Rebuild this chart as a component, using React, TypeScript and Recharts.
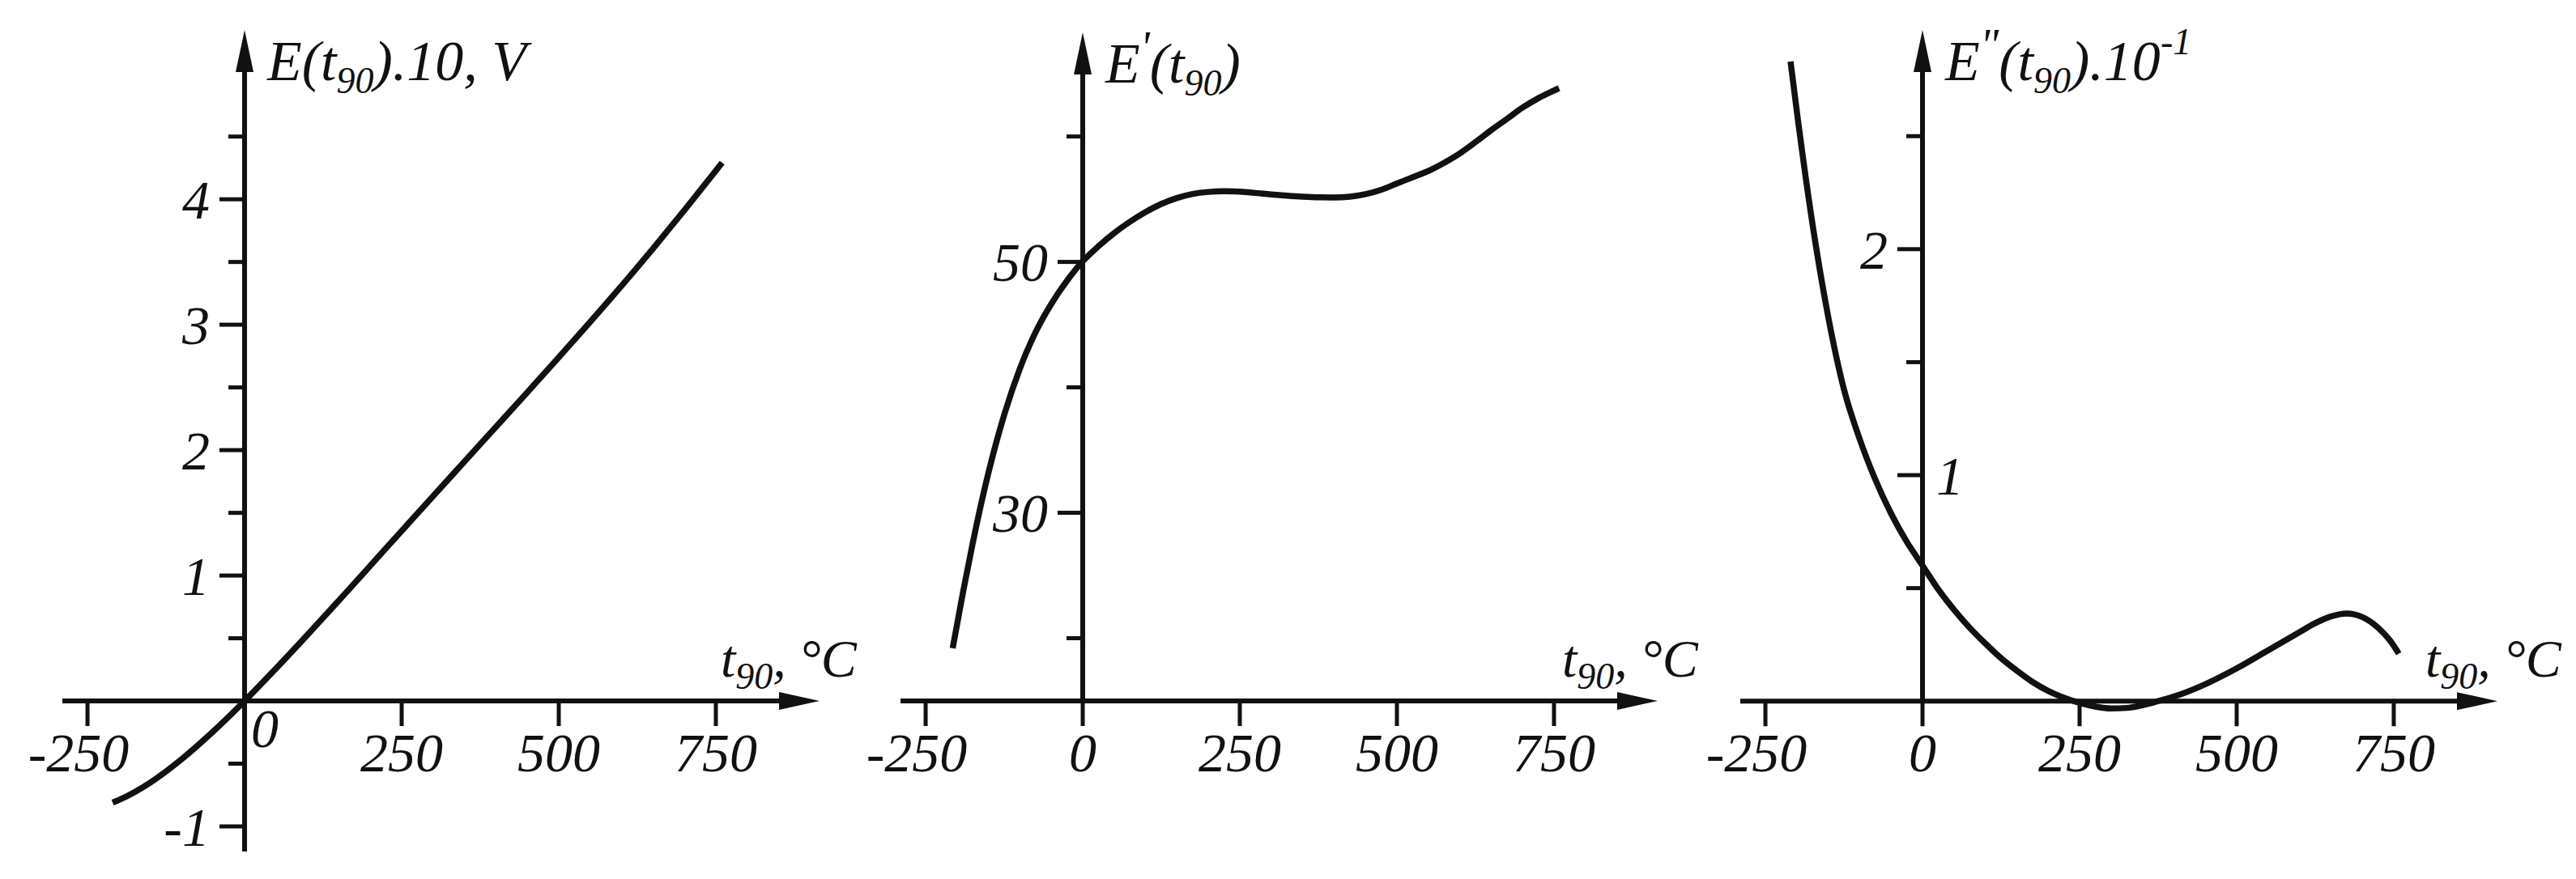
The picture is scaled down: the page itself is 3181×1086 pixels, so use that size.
import React from 'react';
import { LineChart, Line, XAxis, YAxis, ReferenceLine, ReferenceDot } from 'recharts';

const FONT = '"Liberation Serif", "Times New Roman", serif';
const INK = '#111111';
const CANVAS_H = 1086;

// E(t90)·10, V
const tEmf = [-210, -200, -150, -100, -50, 0, 50, 100, 150, 200, 250, 300, 350, 400, 450, 500, 550, 600, 650, 700, 750, 760];
const emf = [-0.81, -0.789, -0.65, -0.463, -0.243, 0, 0.259, 0.527, 0.801, 1.078, 1.356, 1.633, 1.909, 2.185, 2.461, 2.739, 3.022, 3.31, 3.607, 3.913, 4.228, 4.292];

// E'(t90)
const tSlope = [-207, -190, -175, -150, -125, -100, -75, -50, -25, 0, 25, 50, 75, 100, 125, 150, 175, 200, 225, 250, 275, 300, 325, 350, 375, 400, 425, 450, 475, 500, 525, 550, 575, 600, 625, 650, 675, 700, 725, 745, 758];
const slope = [19.2, 23.8, 27.6, 33.2, 37.8, 41.5, 44.4, 46.65, 48.5, 50.05, 51.25, 52.3, 53.2, 53.98, 54.62, 55.1, 55.42, 55.58, 55.63, 55.6, 55.5, 55.38, 55.28, 55.2, 55.15, 55.14, 55.2, 55.4, 55.75, 56.25, 56.75, 57.25, 57.9, 58.65, 59.55, 60.5, 61.4, 62.3, 63.05, 63.55, 63.85];

// E''(t90)·10^-1
const tCurv = [-210, -200, -175, -150, -125, -100, -75, -50, -25, 0, 25, 50, 75, 100, 125, 150, 175, 200, 225, 250, 275, 300, 325, 350, 375, 400, 450, 500, 550, 600, 625, 650, 675, 700, 725, 745, 758];
const curv = [2.83, 2.61, 2.11, 1.7, 1.38, 1.16, 0.98, 0.83, 0.705, 0.6, 0.495, 0.405, 0.325, 0.255, 0.19, 0.135, 0.085, 0.045, 0.015, -0.008, -0.024, -0.032, -0.03, -0.018, 0, 0.02, 0.075, 0.145, 0.225, 0.305, 0.345, 0.375, 0.388, 0.372, 0.325, 0.265, 0.21];

// axis ticks
const xTickVals = [-250, 0, 250, 500, 750];
const emfMajor = [-1, 1, 2, 3, 4];
const emfMinor = [-0.5, 0.5, 1.5, 2.5, 3.5, 4.5];
const slopeMajor = [30, 50];
const slopeMinor = [20, 40, 60];
const curvMajor = [1, 2];
const curvMinor = [0.5, 1.5, 2.5];

const X_DOMAIN: [number, number] = [-290, 915];

const txt = { style: { fontFamily: FONT, fontStyle: 'italic' as const }, fill: INK };

const xArrow = (labelDx: number) => (p: any) => {
    const { x1, y1, x2 } = p;
    return (
        <g>
            <line x1={x1} y1={y1} x2={x2 - 40} y2={y1} stroke={INK} strokeWidth={6} />
            <polygon points={`${x2},${y1} ${x2 - 50},${y1 - 11} ${x2 - 50},${y1 + 11}`} fill={INK} />
            <text x={x2 + labelDx} y={y1 - 30} fontSize={66} {...txt}>
                t<tspan dy={15} fontSize={46}>90</tspan>
                <tspan dy={-15}>, °C</tspan>
            </text>
        </g>
    );
};

const yArrow = (label: React.ReactNode) => (p: any) => {
    const { x1, y1, y2 } = p;
    return (
        <g>
            <line x1={x1} y1={y1} x2={x1} y2={y2 + 40} stroke={INK} strokeWidth={6} />
            <polygon points={`${x1},${y2} ${x1 - 11},${y2 + 52} ${x1 + 11},${y2 + 52}`} fill={INK} />
            <text x={x1 + 28} y={y2 + 62} fontSize={70} {...txt}>
                {label}
            </text>
        </g>
    );
};

const xTickShape = (label: string | null) => (p: any) => (
    <g>
        <line x1={p.cx} y1={p.cy} x2={p.cx} y2={p.cy + 31} stroke={INK} strokeWidth={5} />
        {label && (
            <text x={p.cx + (label.startsWith('-') ? -11 : 0)} y={p.cy + 87} textAnchor="middle" fontSize={68} {...txt}>
                {label}
            </text>
        )}
    </g>
);

const yTickShape = (label: string | null, len: number, side: 'left' | 'right') => (p: any) => (
    <g>
        <line x1={p.cx - len} y1={p.cy} x2={p.cx} y2={p.cy} stroke={INK} strokeWidth={5} />
        {label && (
            <text
                x={side === 'left' ? p.cx - len - 12 : p.cx + 17}
                y={p.cy}
                dy="0.35em"
                textAnchor={side === 'left' ? 'end' : 'start'}
                fontSize={68}
                {...txt}
            >
                {label}
            </text>
        )}
    </g>
);

const originLabel = (p: any) => (
    <text x={p.cx + 8} y={p.cy + 57} fontSize={68} {...txt}>0</text>
);

interface PanelProps {
    left: number;
    width: number;
    plot: { l: number; r: number; t: number; b: number };
    xs: number[];
    ys: number[];
    yDomain: [number, number];
    xAxisAt: number;
    yFrom: number;
    yTo: number;
    yMajor: number[];
    yMinor: number[];
    rightLabels?: number[];
    originInside?: boolean;
    yLabel: React.ReactNode;
    xLabelDx: number;
}

function Panel(props: PanelProps) {
    const { left, width, plot, xs, ys, yDomain, xAxisAt, yFrom, yTo, yMajor, yMinor, rightLabels = [], originInside, yLabel, xLabelDx } = props;
    const data = xs.map((t, i) => ({ t, v: ys[i] }));
    const margin = {
        left: plot.l - left,
        right: left + width - plot.r,
        top: plot.t,
        bottom: CANVAS_H - plot.b,
    };
    const xTicks = originInside ? xTickVals.filter((v) => v !== 0) : xTickVals;

    return (
        <div style={{ position: 'absolute', left, top: 0 }}>
            <LineChart width={width} height={CANVAS_H} data={data} margin={margin}>
                <XAxis type="number" dataKey="t" domain={X_DOMAIN} allowDataOverflow hide />
                <YAxis type="number" domain={yDomain} allowDataOverflow hide />
                <ReferenceLine
                    segment={[{ x: X_DOMAIN[0], y: xAxisAt }, { x: X_DOMAIN[1], y: xAxisAt }]}
                    ifOverflow="visible"
                    shape={xArrow(xLabelDx)}
                />
                <ReferenceLine
                    segment={[{ x: 0, y: yFrom }, { x: 0, y: yTo }]}
                    ifOverflow="visible"
                    shape={yArrow(yLabel)}
                />
                {xTicks.map((v) => (
                    <ReferenceDot key={`xt${v}`} x={v} y={xAxisAt} ifOverflow="visible" shape={xTickShape(String(v))} />
                ))}
                {originInside && <ReferenceDot x={0} y={xAxisAt} ifOverflow="visible" shape={originLabel} />}
                {yMajor.map((v) => (
                    <ReferenceDot
                        key={`ym${v}`}
                        x={0}
                        y={v}
                        ifOverflow="visible"
                        shape={yTickShape(String(v), 31, rightLabels.includes(v) ? 'right' : 'left')}
                    />
                ))}
                {yMinor.map((v) => (
                    <ReferenceDot key={`yn${v}`} x={0} y={v} ifOverflow="visible" shape={yTickShape(null, 20, 'left')} />
                ))}
                <Line
                    type="monotone"
                    dataKey="v"
                    stroke={INK}
                    strokeWidth={7.5}
                    dot={false}
                    activeDot={false}
                    isAnimationActive={false}
                />
            </LineChart>
        </div>
    );
}

export default function App() {
    return (
        <div style={{ position: 'absolute', left: 0, top: 0, width: 3181, height: CANVAS_H, background: '#fff', overflow: 'hidden' }}>
            <Panel
                left={0}
                width={1075}
                plot={{ l: 77, r: 1012, t: 37, b: 1052 }}
                xs={tEmf}
                ys={emf}
                yDomain={[-1.2, 5.35]}
                xAxisAt={0}
                yFrom={-1.2}
                yTo={5.35}
                yMajor={emfMajor}
                yMinor={emfMinor}
                originInside
                xLabelDx={-122}
                yLabel={
                    <>
                        E(t<tspan dy={16} fontSize={46}>90</tspan>
                        <tspan dy={-16}>).10, V</tspan>
                    </>
                }
            />
            <Panel
                left={1070}
                width={1100}
                plot={{ l: 1112, r: 2047, t: 40, b: 866 }}
                xs={tSlope}
                ys={slope}
                yDomain={[15, 68.3]}
                xAxisAt={15}
                yFrom={15}
                yTo={68.3}
                yMajor={slopeMajor}
                yMinor={slopeMinor}
                xLabelDx={-118}
                yLabel={
                    <>
                        E<tspan dy={-24} fontSize={56}>'</tspan>
                        <tspan dy={24}>(t</tspan>
                        <tspan dy={16} fontSize={46}>90</tspan>
                        <tspan dy={-16}>)</tspan>
                    </>
                }
            />
            <Panel
                left={2095}
                width={1086}
                plot={{ l: 2149, r: 3084, t: 37, b: 883 }}
                xs={tCurv}
                ys={curv}
                yDomain={[-0.06, 2.97]}
                xAxisAt={0}
                yFrom={0}
                yTo={2.97}
                yMajor={curvMajor}
                yMinor={curvMinor}
                rightLabels={[1]}
                xLabelDx={-89}
                yLabel={
                    <>
                        E<tspan dy={-24} fontSize={56}>"</tspan>
                        <tspan dy={24}>(t</tspan>
                        <tspan dy={16} fontSize={46}>90</tspan>
                        <tspan dy={-16}>).10</tspan>
                        <tspan dy={-32} fontSize={46}>-1</tspan>
                    </>
                }
            />
        </div>
    );
}
